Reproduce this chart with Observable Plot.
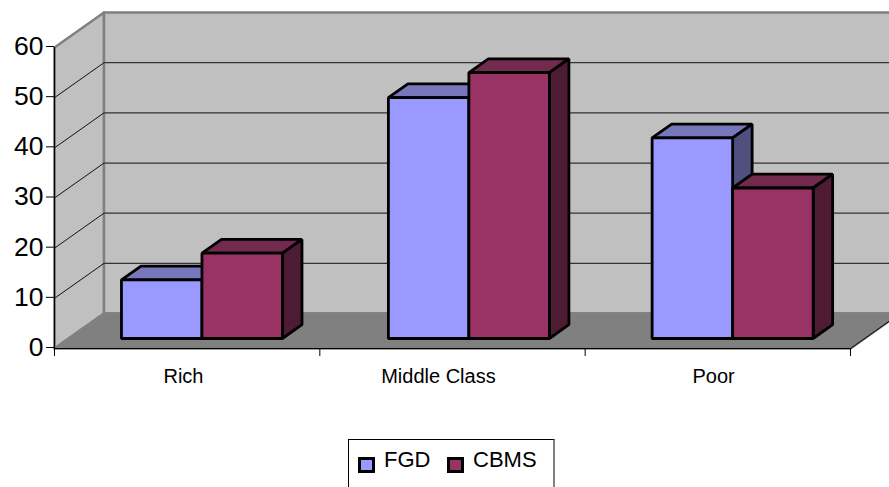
<!DOCTYPE html>
<html>
<head>
<meta charset="utf-8">
<script src="https://cdn.jsdelivr.net/npm/d3@7"></script>
<script src="https://cdn.jsdelivr.net/npm/@observablehq/plot@0.6"></script>
<style>
html,body{margin:0;padding:0;background:#fff;overflow:hidden;font-family:"Liberation Sans",Arial,sans-serif}
#chart svg{display:block}
#legend{position:relative;box-sizing:border-box;margin-left:348px;width:207px;height:48px;border:1px solid #000;border-right:2px solid #808080;border-bottom:none;color:#000}
#legend span{position:absolute}
.sw{box-sizing:border-box;width:17px;height:16px;border:3px solid #000}
.lb{font-size:22px;line-height:24px}
</style>
</head>
<body>
<div id="chart"></div>
<div id="legend"></div>
<script>
const categories = ["Rich", "Middle Class", "Poor"];
const seriesNames = ["FGD", "CBMS"];
const fgd = [11.7, 48, 40];
const cbms = [17, 53, 30];
const yTicks = [0, 10, 20, 30, 40, 50, 60];

// Faces of each series: front, top, side
const palette = {
  FGD:  {front: "#9999ff", top: "#7777bb", side: "#50507f"},
  CBMS: {front: "#993366", top: "#722a4e", side: "#4d1b33"}
};

// Oblique projection, all in data units: x in category widths, y in axis units
const depthX = 0.1866, depthY = 6.97;
const project = (x, v, d) => ({x: x + d * depthX, y: v + d * depthY});
const poly = (id, color, corners, stroke) =>
  corners.map(([x, v, d]) => ({id, color, stroke, ...project(x, v, d)}));

const X1 = 3.2, Y1 = 60;
const walls = [
  ...poly("left", "#c0c0c0", [[0, 0, 0], [0, Y1, 0], [0, Y1, 1], [0, 0, 1]], "#808080"),
  ...poly("back", "#c0c0c0", [[0, 0, 1], [0, Y1, 1], [X1, Y1, 1], [X1, 0, 1]], "#808080"),
  ...poly("floor", "#808080", [[0, 0, 0], [0, 0, 1], [3, 0, 1], [3, 0, 0]], "#808080")
];

const barW = 0.3034, barStart = 0.199, dFront = 0.286, dBack = 0.68;
const groupNudge = [0, 0.006, 0];
const labelCentre = [0.486, 1.447, 2.484];

const bars = [];
categories.forEach((c, i) => {
  [fgd[i], cbms[i]].forEach((v, s) => {
    const name = seriesNames[s], p = palette[name];
    const x0 = i + groupNudge[i] + barStart + s * barW, x1 = x0 + barW;
    const id = c + name;
    bars.push(
      ...poly(id + "top", p.top, [[x0, v, dFront], [x0, v, dBack], [x1, v, dBack], [x1, v, dFront]]),
      ...poly(id + "side", p.side, [[x1, 0, dFront], [x1, v, dFront], [x1, v, dBack], [x1, 0, dBack]]),
      ...poly(id + "front", p.front, [[x0, 0, dFront], [x0, v, dFront], [x1, v, dFront], [x1, 0, dFront]])
    );
  });
});

const inner = yTicks.filter(t => t > 0 && t < 60);
const chart = Plot.plot({
  width: 889, height: 439,
  marginLeft: 54, marginRight: 39, marginTop: 47, marginBottom: 91,
  x: {domain: [0, 3], axis: null},
  y: {domain: [0, 60], axis: null},
  style: {fontFamily: "Liberation Sans, Arial, sans-serif", background: "transparent"},
  marks: [
    Plot.line(walls, {x: "x", y: "y", z: "id", fill: "color", stroke: "stroke", strokeWidth: 2.5, curve: "linear-closed"}),
    // grid on the left wall
    Plot.link(inner, {
      x1: 0, y1: t => t,
      x2: depthX, y2: t => t + depthY,
      stroke: "#111", strokeWidth: 1
    }),
    // grid on the back wall
    Plot.link(inner, {
      x1: depthX, y1: t => t + depthY,
      x2: X1 + depthX, y2: t => t + depthY,
      stroke: "#333", strokeWidth: 1.3
    }),
    // right floor edge
    Plot.link([0], {x1: 3, y1: 0, x2: 3 + depthX, y2: depthY, stroke: "#000", strokeWidth: 1}),
    Plot.ruleX([0], {stroke: "#000", strokeWidth: 1.2}),
    Plot.ruleY([0], {stroke: "#000", strokeWidth: 1.2}),
    Plot.axisY({ticks: yTicks, tickSize: 8, tickPadding: 3, fontSize: 26.5, dy: -1, stroke: "#000", color: "#000", label: null}),
    Plot.axisX({ticks: [0, 1, 2, 3], tickSize: 8, tickFormat: () => "", stroke: "#000", label: null}),
    Plot.text(categories, {
      x: (d, i) => labelCentre[i], y: 0, text: d => d,
      dy: 28, fontSize: 20, fill: "#000"
    }),
    Plot.line(bars, {x: "x", y: "y", z: "id", fill: "color", stroke: "#000", strokeWidth: 2.8, strokeLinejoin: "miter", curve: "linear-closed"})
  ]
});
document.getElementById("chart").append(chart);

const legend = document.getElementById("legend");
const place = [[9, 35], [98, 124]];
seriesNames.forEach((n, i) => {
  const sw = document.createElement("span");
  sw.className = "sw";
  sw.style.cssText = `left:${place[i][0]}px;top:17px;background:${palette[n].front}`;
  const lb = document.createElement("span");
  lb.className = "lb";
  lb.textContent = n;
  lb.style.cssText = `left:${place[i][1]}px;top:8px`;
  legend.append(sw, lb);
});
</script>
</body>
</html>
